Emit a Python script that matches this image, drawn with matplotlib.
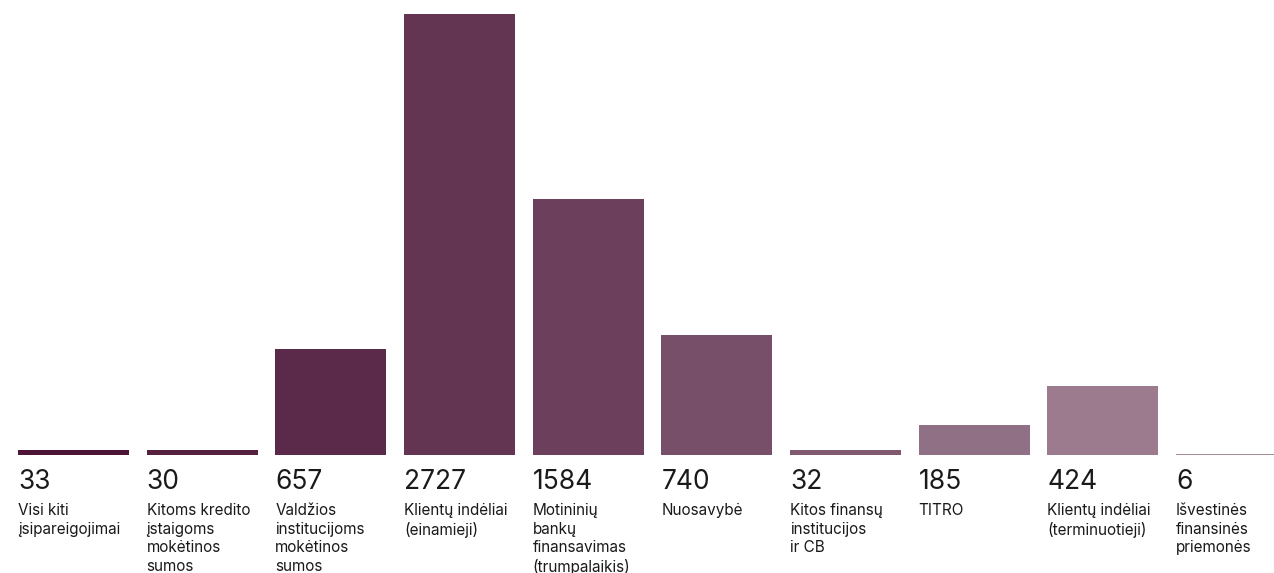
import numpy as np
import matplotlib
matplotlib.use("Agg")
import matplotlib.pyplot as plt

# data
values = [33, 30, 657, 2727, 1584, 740, 32, 185, 424, 6]
labels = [
    "Visi kiti\nįsipareigojimai",
    "Kitoms kredito\nįstaigoms\nmokėtinos\nsumos",
    "Valdžios\ninstitucijoms\nmokėtinos\nsumos",
    "Klientų indėliai\n(einamieji)",
    "Motininių\nbankų\nfinansavimas\n(trumpalaikis)",
    "Nuosavybė",
    "Kitos finansų\ninstitucijos\nir CB",
    "TITRO",
    "Klientų indėliai\n(terminuotieji)",
    "Išvestinės\nfinansinės\npriemonės",
]
colors = ["#4e1438", "#56203f", "#5b2a4a", "#633553", "#6c405c",
          "#774f68", "#80596f", "#8f7084", "#9c7b8f", "#a58c9b"]

plt.rcParams['font.family'] = ['Inter', 'DejaVu Sans']

fig = plt.figure(figsize=(12.74, 5.73), dpi=100)
ax = fig.add_axes([0, 0, 1, 1])

x = np.arange(len(values))
w = 0.863
ax.bar(x, values, width=w, color=colors)

ax.set_xlim(-0.571, 9.33)
ax.set_ylim(-729.7, 2813.6)
ax.axis('off')

for i, (v, lab) in enumerate(zip(values, labels)):
    ax.annotate(str(v), xy=(i - w / 2, 0), xytext=(0, -34),
                textcoords='offset pixels', ha='left', va='baseline',
                fontsize=19, color='#1a1a1a')
    ax.annotate(lab, xy=(i - w / 2, 0), xytext=(0, -48),
                textcoords='offset pixels', ha='left', va='top',
                fontsize=11, color='#1a1a1a', linespacing=1.3)

fig.savefig("out.png", dpi=100)
